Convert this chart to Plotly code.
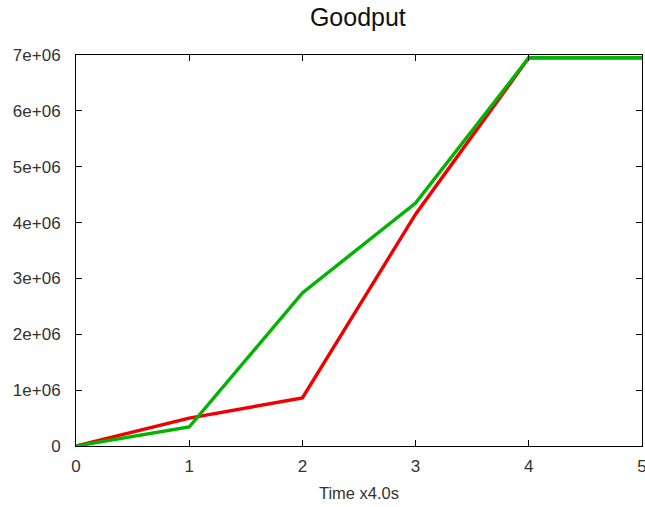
import plotly.graph_objects as go

x_vals = [0, 1, 2, 3, 4, 5]
red_vals = [0, 0.50e6, 0.86e6, 4.15e6, 6.95e6, 6.95e6]
green_vals = [0, 0.34e6, 2.74e6, 4.35e6, 6.95e6, 6.95e6]
y_tickvals = [0, 1e6, 2e6, 3e6, 4e6, 5e6, 6e6, 7e6]
y_ticktext = ["0", "1e+06", "2e+06", "3e+06", "4e+06", "5e+06", "6e+06", "7e+06"]

fig = go.Figure()
fig.add_trace(go.Scatter(x=x_vals, y=red_vals, mode="lines",
                         line=dict(color="#f00000", width=3.4), showlegend=False))
fig.add_trace(go.Scatter(x=x_vals, y=green_vals, mode="lines",
                         line=dict(color="#00b400", width=3.4), showlegend=False))

fig.update_layout(
    width=645, height=507,
    margin=dict(l=76, r=3, t=55, b=61),
    paper_bgcolor="white", plot_bgcolor="white",
    font=dict(family="Liberation Sans, Arial, sans-serif", color="#333333", size=17),
    title=dict(text="Goodput", x=0.498, xanchor="center", xref="paper",
               y=0.966, yanchor="middle", yref="container",
               font=dict(size=25, color="#111111")),
)
fig.update_xaxes(
    range=[0, 5], tickvals=x_vals, showgrid=False, zeroline=False,
    showline=True, linecolor="black", linewidth=1, mirror="ticks",
    ticks="inside", ticklen=6, tickcolor="black", automargin=False,
    ticklabelstandoff=5, ticklabeloverflow="allow",
    title=dict(text="Time x4.0s", font=dict(size=16.5, color="#333333"), standoff=12),
    tickfont=dict(size=17),
)
fig.update_yaxes(
    range=[0, 7e6], tickvals=y_tickvals, ticktext=y_ticktext, showgrid=False,
    zeroline=False, showline=True, linecolor="black", linewidth=1, mirror="ticks",
    ticks="inside", ticklen=6, tickcolor="black", tickfont=dict(size=17),
    automargin=False, ticklabelstandoff=11, ticklabeloverflow="allow",
)
fig.write_html("out.html", config={"displayModeBar": False},
               post_script="document.body.style.margin='0';document.body.style.overflow='hidden';")
